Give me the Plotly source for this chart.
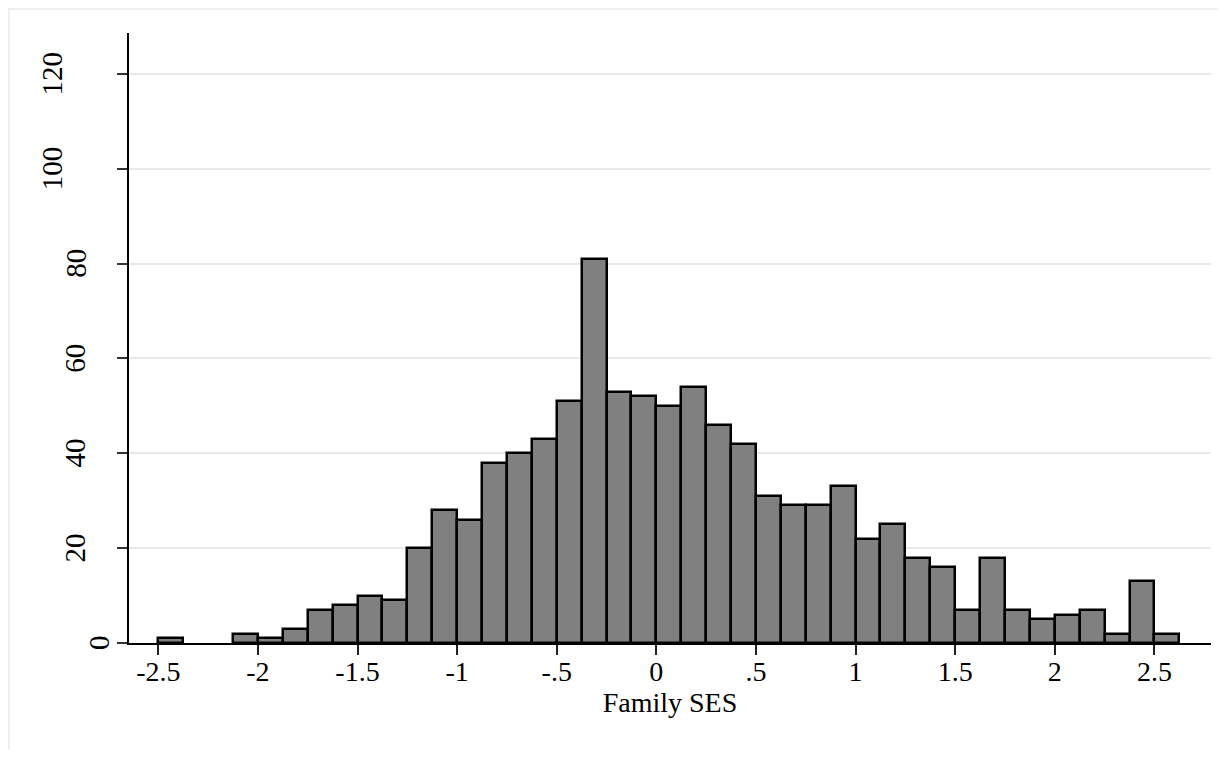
import plotly.graph_objects as go

# ---- data ----
bin_start = -2.5
bin_width = 0.125
counts = [1, 0, 0, 2, 1, 3, 7, 8, 10, 9, 20, 28, 26, 38, 40, 43, 51, 81, 53, 52,
          50, 54, 46, 42, 31, 29, 29, 33, 22, 25, 18, 16, 7, 18, 7, 5, 6, 7, 2, 13, 2]
x_tickvals = [-2.5, -2, -1.5, -1, -0.5, 0, 0.5, 1, 1.5, 2, 2.5]
x_ticktext = ["-2.5", "-2", "-1.5", "-1", "-.5", "0", ".5", "1", "1.5", "2", "2.5"]
y_tickvals = [0, 20, 40, 60, 80, 100, 120]
y_ticktext = ["0", "20", "40", "60", "80", "100", "120"]
x_title = "Family SES"

bin_left = [bin_start + i * bin_width for i in range(len(counts))]
# empty bins are not drawn (no outline along the axis)
bar_heights = [c if c > 0 else None for c in counts]

# page has an 8px body margin; figure sized to fit the window
OFF = 8
W, H = 1226 - 2 * OFF, 757 - 2 * OFF
ml, mt = 129 - OFF, 33 - OFF
mr = W - (1211 - OFF)
mb = H - (643 - OFF)
pw = W - ml - mr
ph = H - mt - mb

FONT = "Liberation Serif"

fig = go.Figure()
fig.add_trace(go.Bar(
    x=bin_left, y=bar_heights, width=bin_width, offset=0,
    marker=dict(color="#808080", line=dict(color="#000000", width=2.5)),
    hoverinfo="x+y", showlegend=False,
))

fig.update_layout(
    width=W, height=H,
    margin=dict(l=ml, r=mr, t=mt, b=mb, pad=0),
    paper_bgcolor="white", plot_bgcolor="white",
    bargap=0,
    xaxis=dict(
        range=[-2.647, 2.784],
        tickvals=x_tickvals, ticktext=x_ticktext,
        ticks="outside", ticklen=10, tickwidth=1.5, tickcolor="#222",
        ticklabelstandoff=-7,
        showline=True, linecolor="black", linewidth=1.5,
        showgrid=False, zeroline=False,
        tickfont=dict(family=FONT, size=28, color="black"),
        title=dict(text=x_title, font=dict(family=FONT, size=28, color="black"), standoff=0),
    ),
    yaxis=dict(
        range=[0, 128.6],
        tickvals=y_tickvals, showticklabels=False,
        ticks="outside", ticklen=10, tickwidth=1.5, tickcolor="#333",
        showline=True, linecolor="black", linewidth=1.5,
        showgrid=True, gridcolor="#e9e9e9", gridwidth=2,
        zeroline=False,
    ),
)

# y tick labels (rotated) as annotations
for v, t in zip(y_tickvals, y_ticktext):
    cx = (99 - OFF) - 23.7 * (len(t) - 1)
    fig.add_annotation(
        x=(cx - ml) / pw, xref="paper", y=v, yref="y",
        text=t, textangle=-90, showarrow=False,
        xanchor="center", yanchor="middle",
        font=dict(family=FONT, size=29, color="black"),
    )

# outer light frame
fig.add_shape(type="rect", xref="paper", yref="paper",
              x0=(1 - ml) / pw, x1=(W + 10 - ml) / pw,
              y0=-(mb + 10) / ph, y1=(ph + mt - 1) / ph,
              line=dict(color="#eeeeee", width=2), fillcolor="rgba(0,0,0,0)", layer="below")

fig.write_html("out.html")
